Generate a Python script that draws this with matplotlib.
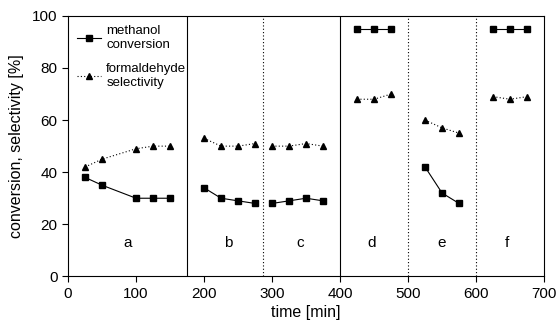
import matplotlib
matplotlib.use("Agg")
import matplotlib.pyplot as plt
from matplotlib.lines import Line2D

plt.rcParams["font.family"] = ["Liberation Sans", "DejaVu Sans"]
plt.rcParams["font.size"] = 10

# run segments: time [min], methanol conversion [%], formaldehyde selectivity [%]
seg_time = [
    [25, 50, 100, 125, 150],
    [200, 225, 250, 275],
    [300, 325, 350, 375],
    [425, 450, 475],
    [525, 550, 575],
    [625, 650, 675],
]
seg_conv = [
    [38, 35, 30, 30, 30],
    [34, 30, 29, 28],
    [28, 29, 30, 29],
    [95, 95, 95],
    [42, 32, 28],
    [95, 95, 95],
]
seg_sel = [
    [42, 45, 49, 50, 50],
    [53, 50, 50, 51],
    [50, 50, 51, 50],
    [68, 68, 70],
    [60, 57, 55],
    [69, 68, 69],
]
seg_names = ["a", "b", "c", "d", "e", "f"]
name_x = [88, 235, 342, 447, 550, 646]
name_y = 13

solid_bounds = [175, 400]
dotted_bounds = [287, 500, 600]

fig = plt.figure(figsize=(5.58, 3.31), dpi=100)
ax = fig.add_axes([0.122, 0.165, 0.853, 0.787])

dot = (0, (1, 2))
for t, c, s in zip(seg_time, seg_conv, seg_sel):
    ax.plot(t, c, color="black", linewidth=0.8, marker="s", markersize=4)
    ax.plot(t, s, color="black", linewidth=0.8, linestyle=dot, marker="^", markersize=4.5)

for x in solid_bounds:
    ax.axvline(x, color="black", linewidth=0.8)
for x in dotted_bounds:
    ax.axvline(x, color="black", linewidth=0.8, linestyle=dot)

for n, x in zip(seg_names, name_x):
    ax.text(x, name_y, n, ha="center", va="center", fontsize=11)

ax.set_xlim(0, 700)
ax.set_ylim(0, 100)
ax.set_xticks([0, 100, 200, 300, 400, 500, 600, 700])
ax.set_yticks([0, 20, 40, 60, 80, 100])
ax.tick_params(direction="out", length=4, width=0.8, labelsize=11)
for sp in ax.spines.values():
    sp.set_linewidth(0.8)

ax.set_xlabel("time [min]", fontsize=11.5, labelpad=3)
ax.set_ylabel("conversion, selectivity [%]", fontsize=11.5, labelpad=6)

h1 = Line2D([], [], color="black", linewidth=0.8, marker="s", markersize=4)
h2 = Line2D([], [], color="black", linewidth=0.8, linestyle=dot, marker="^", markersize=4.5)
ax.legend([h1, h2], ["methanol\nconversion", "formaldehyde\nselectivity"],
          loc="upper left", frameon=False, fontsize=9.5, handlelength=1.8,
          handletextpad=0.4, labelspacing=0.9, borderaxespad=0.3)

fig.savefig("out.png", dpi=100)
